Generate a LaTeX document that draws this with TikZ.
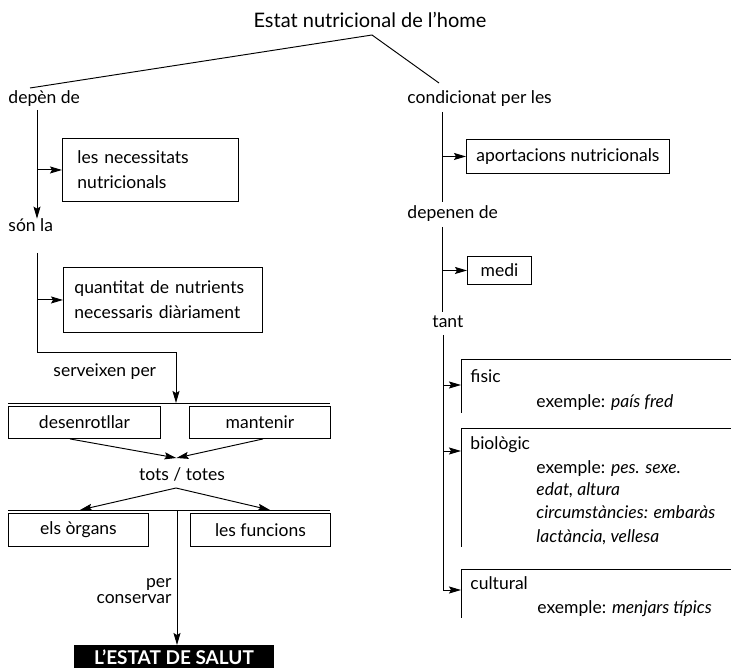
\documentclass[tikz,border=0pt]{standalone}
\usepackage{fontspec}
\setmainfont{Lato}
\usetikzlibrary{arrows.meta,calc}

\begin{document}
\begin{tikzpicture}[x=1pt,y=-1pt,line width=0.95pt,
  lbl/.style={inner sep=0pt,font=\fontsize{17.5}{20}\selectfont},
  ttl/.style={inner sep=0pt,font=\fontsize{20}{22}\selectfont},
  box/.style={draw,inner sep=0pt,font=\fontsize{17.5}{25}\selectfont},
  arr/.style={-{Stealth[length=12pt,width=7pt,inset=2pt]}}]
\useasboundingbox (0,0) rectangle (731,668);

% heading and its two branches
\node[ttl] (title) at (370,20) {Estat nutricional de l’home};
\coordinate (apex) at (372,35);
\coordinate (lend) at (30,88);
\coordinate (rend) at (439,83);
\node[lbl,anchor=base west] (depen) at (8,104) {depèn de};
\node[lbl,anchor=base west] (cond) at (407,104) {condicionat per les};
\draw (lend) -- (apex) -- (rend);

% left column
\coordinate (l1top) at (37,110);
\node[lbl,anchor=base west] (sonla) at (8,232) {són la};
\node[box,anchor=north west,minimum width=176pt,minimum height=63pt,
      text width=146pt,align=left] (nec) at (62,138) {les necessitats\\nutricionals};
\draw[arr] (l1top) -- (l1top |- sonla.north);
\draw[arr] (l1top |- nec.west) -- (nec.west);

\coordinate (l2top) at (37,253);
\coordinate (l2bot) at (37,352);
\coordinate (l2turn) at (176,352);
\coordinate (bar1) at (176,403);
\node[box,anchor=north west,minimum width=199pt,minimum height=65pt,
      text width=177pt,align=left] (qty) at (63,267) {quantitat de nutrients\\necessaris diàriament};
\draw[arr] (l2top |- qty.west) -- (qty.west);
\draw[arr] (l2top) -- (l2bot) -- (l2turn) -- (bar1);
\node[lbl,anchor=base west] (serv) at (53,377) {serveixen per};

\coordinate (bar1l) at (8,403);
\coordinate (bar1r) at (330,403);
\draw (bar1l) -- (bar1r);
\node[box,anchor=north west,minimum width=152pt,minimum height=32pt] (desen) at (8,406) {desenrotllar};
\node[box,anchor=north west,minimum width=141pt,minimum height=32pt] (mant) at (189,406) {mantenir};

\node[lbl] (tots) at (182,474) {tots / totes};
\coordinate (totsin) at (176.5,458);
\draw[arr] ($(desen.south west)+(62,0)$) -- (totsin);
\draw[arr] ($(mant.south west)+(74,0)$) -- (totsin);

\coordinate (totsout) at (176,488);
\coordinate (bar2l) at (8,510);
\coordinate (bar2r) at (330,510);
\coordinate (bar2c) at (177,510);
\draw (bar2l) -- (bar2r);
\draw[arr] (totsout) -- (80,510);
\draw[arr] (totsout) -- (270,510);
\node[box,anchor=north west,minimum width=140pt,minimum height=33pt] (organs) at (8,513) {els òrgans};
\node[box,anchor=north west,minimum width=140pt,minimum height=33pt] (func) at (190,513) {les funcions};

\node[box,fill=black,text=white,anchor=north west,minimum width=199pt,minimum height=23pt,
      font=\fontsize{19}{20}\selectfont\bfseries] (salut) at (74,645) {L’ESTAT DE SALUT};
\draw[arr] (bar2c) -- (bar2c |- salut.north);
\node[lbl,anchor=east,align=right,font=\fontsize{17.5}{16}\selectfont] (cons) at (172,591) {per\\conservar};

% right column
\coordinate (r1top) at (442,112);
\coordinate (r1bot) at (442,202);
\node[box,anchor=north west,minimum width=203pt,minimum height=34pt] (aport) at (466,139) {aportacions nutricionals};
\draw (r1top) -- (r1bot);
\draw[arr] (r1top |- aport.west) -- (aport.west);
\node[lbl,anchor=base west] (depn) at (407,219) {depenen de};

\coordinate (r2top) at (442,227);
\coordinate (r2bot) at (442,312);
\node[box,anchor=north west,minimum width=64pt,minimum height=28pt] (medi) at (467,256) {medi};
\draw (r2top) -- (r2bot);
\draw[arr] (r2top |- medi.west) -- (medi.west);
\node[lbl,anchor=base west] (tant) at (432,328) {tant};

% open frames of the three kinds of environment
\coordinate (r3top) at (443,335);
\coordinate (r3turn) at (443,590);
\coordinate (fisTL) at (461,359);
\coordinate (bioTL) at (461,428);
\coordinate (culTL) at (461,569);
\draw (731,359) -- (fisTL) -- (461,413);
\draw (731,428) -- (bioTL) -- (461,547);
\draw (731,569) -- (culTL) -- (461,618);
\draw (r3top) -- (r3turn);
\draw[arr] (r3top |- 0,385) -- (fisTL |- 0,385);
\draw[arr] (r3top |- 0,451) -- (bioTL |- 0,451);
\draw[arr] (r3turn) -- (r3turn -| culTL);

\node[lbl,anchor=base west] (fis) at (470,382) {fisic};
\node[lbl,anchor=base west] (fisex) at (536,407) {exemple: \textit{país fred}};
\node[lbl,anchor=base west] (bio) at (470,449) {biològic};
\node[lbl,anchor=base west] (bioex1) at (536,473) {exemple: \textit{pes. sexe.}};
\node[lbl,anchor=base west] (bioex2) at (536,495) {\textit{edat, altura}};
\node[lbl,anchor=base west] (bioex3) at (536,518) {\textit{circumstàncies: embaràs}};
\node[lbl,anchor=base west] (bioex4) at (536,542) {\textit{lactància, vellesa}};
\node[lbl,anchor=base west] (cul) at (470,589) {cultural};
\node[lbl,anchor=base west] (culex) at (537,613) {exemple: \textit{menjars típics}};
\end{tikzpicture}
\end{document}
